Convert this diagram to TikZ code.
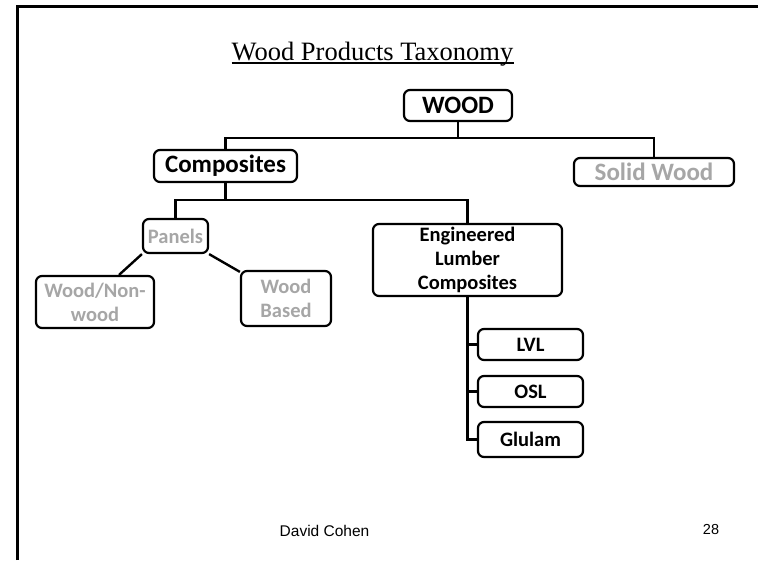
\documentclass[tikz,border=0pt]{standalone}
\usepackage{fontspec}
\usetikzlibrary{backgrounds,calc}
\newfontfamily\boxfont{Carlito}[BoldFont={Carlito Bold}]
\newfontfamily\titlefont{Liberation Serif}
\newfontfamily\footfont{Liberation Sans}
\definecolor{lightgrey}{RGB}{166,166,166}
\tikzset{
  x=1pt, y=-1pt,
  box/.style={draw=black, line width=2.2pt, rounded corners=6pt, fill=white,
    inner sep=0pt, align=center,
    font=\boxfont\bfseries\fontsize{20.5}{24}\selectfont},
  bigbox/.style={box, font=\boxfont\bfseries\fontsize{25}{29}\selectfont},
  faded/.style={text=lightgrey},
  link/.style={draw=black, line width=2.4pt},
}
\begin{document}
\begin{tikzpicture}
\useasboundingbox (0,0) rectangle (758,560);
% slide frame
\draw[line width=3pt] (17.5,560) -- (17.5,6.5) -- (758,6.5);

% title
\node[anchor=base, inner sep=0pt, font=\titlefont\fontsize{26.5}{30}\selectfont] (title) at (372.5,60) {Wood Products Taxonomy};
\draw[line width=1.2pt] ($(title.base west)+(0,3)$) -- ($(title.base east)+(0,3)$);

% boxes
\node[bigbox, minimum width=108pt, minimum height=31pt] (wood) at (458,105.5) {WOOD};
\node[bigbox, minimum width=143pt, minimum height=32pt] (comp) at (225.5,166) {Composites};
\node[bigbox, faded, minimum width=160pt, minimum height=28pt] (solid) at (654,172) {Solid Wood};
\node[box, faded, minimum width=65pt, minimum height=34pt] (panels) at (175.5,236) {Panels};
\node[box, minimum width=189pt, minimum height=72pt] (elc) at (467.5,260) {Engineered\\Lumber\\Composites};
\node[box, faded, minimum width=118pt, minimum height=52pt] (wnw) at (95,302) {Wood/Non-\\wood};
\node[box, faded, minimum width=90pt, minimum height=55pt] (wb) at (286,298.5) {Wood\\Based};
\node[box, minimum width=105pt, minimum height=31pt] (lvl) at (530.5,344.5) {LVL};
\node[box, minimum width=105pt, minimum height=31pt] (osl) at (530.5,391.5) {OSL};
\node[box, minimum width=105pt, minimum height=35pt] (glulam) at (530.5,439.5) {Glulam};

% connectors
\begin{scope}[on background layer]
  \draw[link] (wood.south) -- ++(0,16) coordinate (j1);
  \draw[link] (comp.north) |- (j1) -| (solid.north);
  \draw[link] (comp.south) -- ++(0,17) coordinate (j2);
  \draw[link] (panels.north) |- (j2) -| (elc.north);
  \draw[link] (panels.south west) -- ($(wnw.north west)!0.7!(wnw.north east)$);
  \draw[link] (panels.south east) -- (wb.150);
  \draw[link] (elc.south) |- (glulam.west);
  \draw[link] (elc.south |- lvl.west) -- (lvl.west);
  \draw[link] (elc.south |- osl.west) -- (osl.west);
\end{scope}

% footer
\node[anchor=base, inner sep=0pt, font=\footfont\fontsize{15.5}{18}\selectfont] (author) at (324.5,536) {David Cohen};
\node[anchor=base, inner sep=0pt, font=\footfont\fontsize{14.5}{17}\selectfont] (page) at (711,534) {28};
\end{tikzpicture}
\end{document}
